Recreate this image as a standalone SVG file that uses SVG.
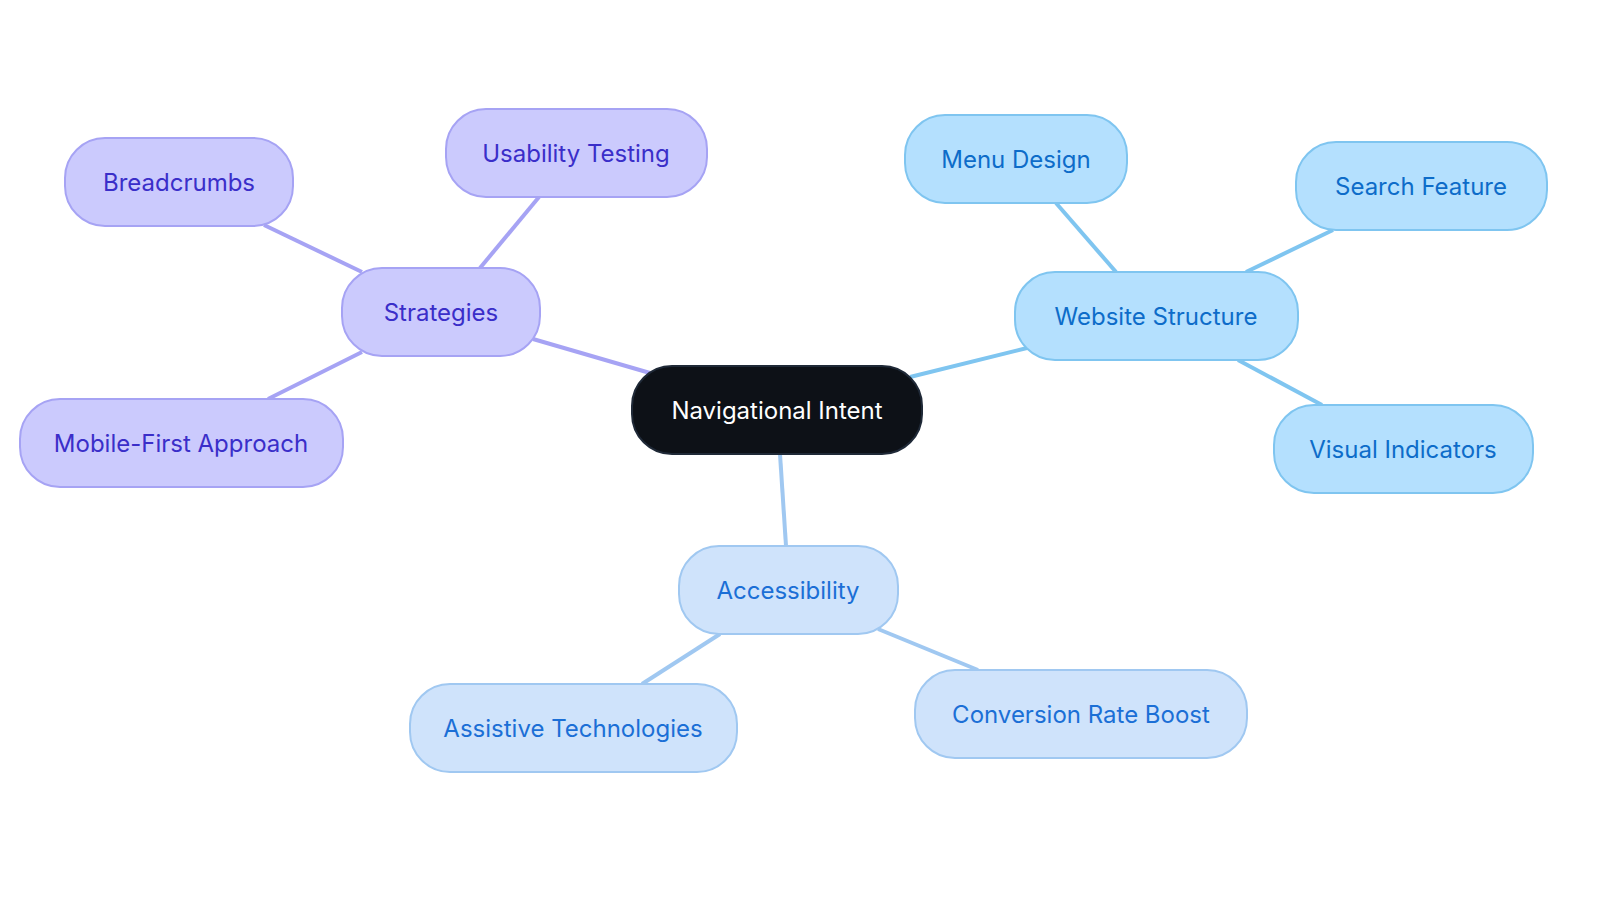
<svg xmlns="http://www.w3.org/2000/svg" width="1600" height="903" viewBox="0 0 1600 903">
<style>
text{font-family:Inter,"Noto Sans",sans-serif;font-size:24px;text-anchor:middle;dominant-baseline:central}
.p rect{fill:#cbcafd;stroke:#a6a3f4;stroke-width:2}.p text{fill:#3a2ec9}
.b rect{fill:#b4e0fe;stroke:#7fc5f0;stroke-width:2}.b text{fill:#0d6cc9}
.a rect{fill:#cfe3fb;stroke:#a0c8f1;stroke-width:2}.a text{fill:#1b6fd6}
.lp{stroke:#a6a3f4;stroke-width:4}.lb{stroke:#7fc5f0;stroke-width:4}.la{stroke:#a0c8f1;stroke-width:4}
</style>
<rect width="1600" height="903" fill="#fff"/>
<g id="connectors">
<line class="lp" x1="650" y1="373" x2="533" y2="339"/>
<line class="lp" x1="480" y1="268" x2="539" y2="197"/>
<line class="lp" x1="362" y1="272" x2="264" y2="225"/>
<line class="lp" x1="362" y1="352" x2="268" y2="399"/>
<line class="lb" x1="910" y1="377" x2="1027" y2="348"/>
<line class="lb" x1="1116" y1="272" x2="1056" y2="203"/>
<line class="lb" x1="1246" y1="272" x2="1333" y2="230"/>
<line class="lb" x1="1238" y1="360" x2="1322" y2="405"/>
<line class="la" x1="780" y1="454" x2="786" y2="546"/>
<line class="la" x1="720" y1="634" x2="642" y2="684"/>
<line class="la" x1="878" y1="629" x2="978" y2="670"/>
</g>
<g id="center"><rect x="632" y="366" width="290" height="88" rx="40" fill="#0d1117" stroke="#1f2937" stroke-width="2"/><text x="777" y="410" fill="#fff">Navigational Intent</text></g>
<g id="strategies" class="p"><rect x="342" y="268" width="198" height="88" rx="40"/><text x="441" y="312">Strategies</text></g>
<g id="usability" class="p"><rect x="446" y="109" width="261" height="88" rx="40"/><text x="576" y="153">Usability Testing</text></g>
<g id="breadcrumbs" class="p"><rect x="65" y="138" width="228" height="88" rx="40"/><text x="179" y="182">Breadcrumbs</text></g>
<g id="mobile" class="p"><rect x="20" y="399" width="323" height="88" rx="40"/><text x="181" y="443">Mobile-First Approach</text></g>
<g id="website" class="b"><rect x="1015" y="272" width="283" height="88" rx="40"/><text x="1156" y="316">Website Structure</text></g>
<g id="menu" class="b"><rect x="905" y="115" width="222" height="88" rx="40"/><text x="1016" y="159">Menu Design</text></g>
<g id="search" class="b"><rect x="1296" y="142" width="251" height="88" rx="40"/><text x="1421" y="186">Search Feature</text></g>
<g id="visual" class="b"><rect x="1274" y="405" width="259" height="88" rx="40"/><text x="1403" y="449">Visual Indicators</text></g>
<g id="accessibility" class="a"><rect x="679" y="546" width="219" height="88" rx="40"/><text x="788" y="590">Accessibility</text></g>
<g id="assistive" class="a"><rect x="410" y="684" width="327" height="88" rx="40"/><text x="573" y="728">Assistive Technologies</text></g>
<g id="conversion" class="a"><rect x="915" y="670" width="332" height="88" rx="40"/><text x="1081" y="714">Conversion Rate Boost</text></g>
</svg>
